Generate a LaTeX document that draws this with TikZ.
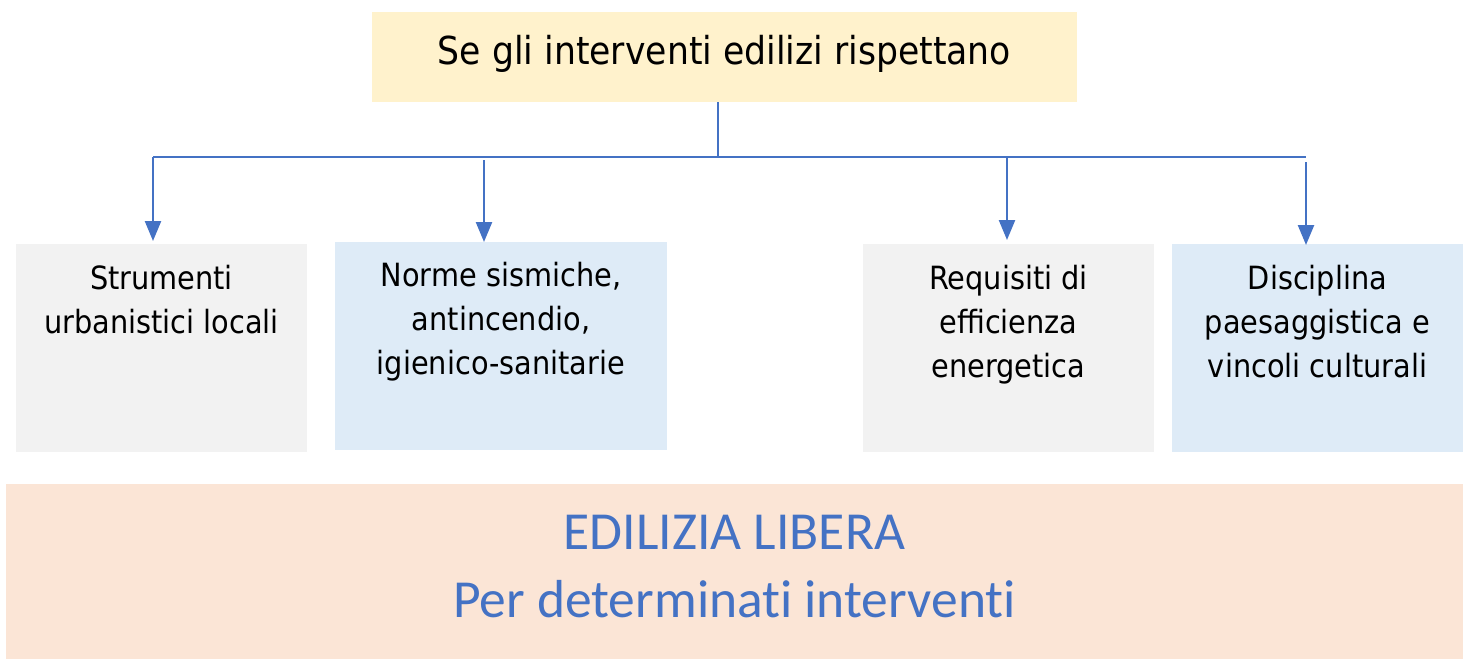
\documentclass[tikz,border=0pt]{standalone}
\usepackage{fontspec}
\setmainfont{DejaVu Sans}[FakeStretch=0.9]
\newfontfamily\calib{Carlito}[RawFeature=-liga]
\usetikzlibrary{arrows.meta}
\definecolor{topfill}{HTML}{FFF2CC}
\definecolor{grayfill}{HTML}{F2F2F2}
\definecolor{bluefill}{HTML}{DEEBF7}
\definecolor{peachfill}{HTML}{FBE5D6}
\definecolor{linkblue}{HTML}{4472C4}
\tikzset{
  panel/.style={draw=none, inner sep=0pt, outer sep=0pt},
  boxtext/.style={anchor=north, align=center, inner sep=0pt, font=\fontsize{32}{44}\selectfont},
  link/.style={draw=linkblue, line width=2.4pt},
  linkarrow/.style={link, -{Triangle[width=16pt,length=20pt]}},
}
\begin{document}
\begin{tikzpicture}[x=1pt,y=-1pt]
\useasboundingbox (0,0) rectangle (1475,665);
% top
\node[panel, fill=topfill, minimum width=705pt, minimum height=90pt] (top) at (724.5,57) {};
\node[inner sep=0pt, font=\fontsize{38.5}{44}\selectfont] (toptext) at (724.5,54) {Se gli interventi edilizi rispettano};
% boxes
\node[panel, fill=grayfill, minimum width=291pt, minimum height=208pt] (b1) at (161.5,348) {};
\node[panel, fill=bluefill, minimum width=332pt, minimum height=208pt] (b2) at (501,346) {};
\node[panel, fill=grayfill, minimum width=291pt, minimum height=208pt] (b3) at (1008.5,348) {};
\node[panel, fill=bluefill, minimum width=291pt, minimum height=208pt] (b4) at (1317.5,348) {};
\node[boxtext] (t1) at (161.5,265) {Strumenti\\urbanistici locali};
\node[boxtext] (t2) at (501,262) {Norme sismiche,\\antincendio,\\igienico-sanitarie};
\node[boxtext] (t3) at (1008.5,265) {Requisiti di\\efficienza\\energetica};
\node[boxtext] (t4) at (1317.5,265) {Disciplina\\paesaggistica e\\vincoli culturali};
% bottom
\node[panel, fill=peachfill, minimum width=1457pt, minimum height=175pt] (bot) at (734.5,571.5) {};
\node[align=center, inner sep=0pt, text=linkblue, font=\calib\fontsize{53.5}{68}\selectfont] (bottext) at (734.5,567) {EDILIZIA LIBERA\\Per determinati interventi};
% connectors
\coordinate (j0) at (718,157);
\coordinate (jl) at (153,157);
\coordinate (jr) at (1306,157);
\coordinate (s1) at (153,157);
\coordinate (s2) at (484,160);
\coordinate (s3) at (1007,157);
\coordinate (s4) at (1306,162);
\coordinate (e1) at (153,241);
\coordinate (e2) at (484,242);
\coordinate (e3) at (1007,240);
\coordinate (e4) at (1306,245);
\draw[link] (top.south -| j0) -- (j0);
\draw[link] (jl) -- (jr);
\draw[linkarrow] (s1) -- (e1);
\draw[linkarrow] (s2) -- (e2);
\draw[linkarrow] (s3) -- (e3);
\draw[linkarrow] (s4) -- (e4);
\end{tikzpicture}
\end{document}
